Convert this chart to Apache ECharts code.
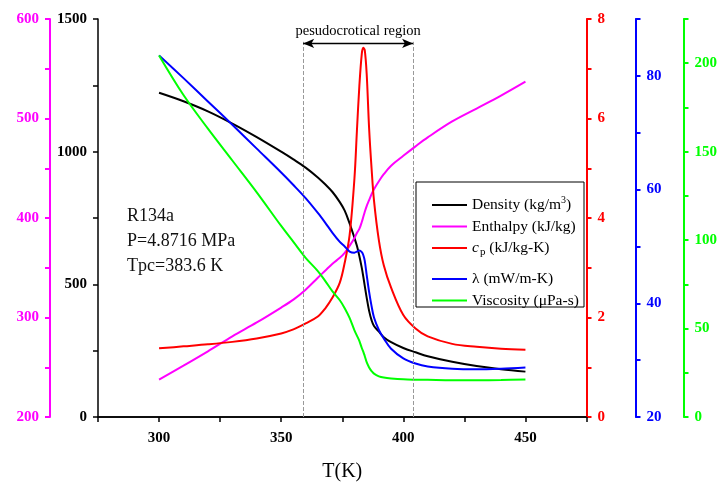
<!DOCTYPE html>
<html>
<head>
<meta charset="utf-8">
<script src="https://cdn.jsdelivr.net/npm/echarts@6/dist/echarts.min.js"></script>
<style>html,body{margin:0;padding:0;background:#fff;overflow:hidden}#c{width:720px;height:487px}</style>
</head>
<body>
<div id="c"></div>
<script>
var temperature = [300,310,320,330,340,350,355,360,365,368,371,374,376,378,380,381,382,383,383.6,384.2,385,386,387,388,390,392,395,400,405,410,420,430,440,450];
var density   = [1222,1190,1152,1106,1055,1000,971,940,903,877,848,810,778,730,675,645,607,562,530,495,450,400,365,343,322,301,282,260,244,229,208,192,180,171];
var enthalpy  = [237.6,251.6,266,281,295,310,318,328,340,347,354,360,365,372,380,385,389,396,401,406,412,418,424,429,437,444,452.5,462.5,472,481,497,510,523,537];
var cp        = [1.38,1.42,1.46,1.51,1.58,1.68,1.76,1.88,2.02,2.18,2.40,2.70,3.10,3.65,4.80,5.75,6.65,7.30,7.42,7.38,6.90,5.80,5.00,4.35,3.55,3.05,2.60,2.05,1.78,1.62,1.47,1.41,1.37,1.35];
var lambda    = [83.6,79.6,75.5,71.4,67.2,63,60.8,58.5,55.9,54.2,52.4,50.8,50.0,49.1,48.9,49.1,49.3,49.0,48.5,47.5,45,42,39.5,37.5,35.3,33.8,32,30.3,29.4,28.9,28.5,28.4,28.5,28.7];
var viscosity = [204.4,182,163,145,127,108,99,90,82.5,77,71,66,61.5,56,49,46,43,39,37,34.5,31,28,26,24.5,23,22.3,21.8,21.3,21.1,21,20.8,20.8,20.9,21.2];
var pseudoRegion = [359, 404];
var xTicks = {min:275, max:475, interval:25};

var FONT = "'Liberation Serif','Times New Roman',serif";
var chart = echarts.init(document.getElementById('c'));
function pairs(a){ return temperature.map(function(t,i){ return [t, a[i]]; }); }
var legendText = {
  'Density': 'Density (kg/m{sup|3})',
  'Enthalpy': 'Enthalpy (kJ/kg)',
  'cp': '{it|c}{sub|p} (kJ/kg-K)',
  'lambda': 'λ (mW/m-K)',
  'Viscosity': 'Viscosity (μPa-s)'
};
var legendTextStyle = {
  fontFamily: FONT, fontSize: 15.5, color: '#000', lineHeight: 20,
  rich: {
    sup: {fontFamily: FONT, fontSize: 10, verticalAlign: 'top', lineHeight: 12, color:'#000'},
    sub: {fontFamily: FONT, fontSize: 11, verticalAlign: 'bottom', lineHeight: 12, color:'#000', padding:[0,0,0,1]},
    it: {fontFamily: FONT, fontSize: 15.5, fontStyle: 'italic', color:'#000', lineHeight: 20}
  }
};
function yAx(o){
  var c = o.color;
  return {
    type: 'value', position: o.pos, offset: o.offset, min: o.min, max: o.max, interval: o.interval,
    axisLine: {show: true, lineStyle: {color: c, width: o.w || 2}},
    axisTick: {show: true, inside: false, length: 5, lineStyle: {color: c, width: o.w || 2}},
    splitLine: {show: false},
    axisLabel: {color: c, fontFamily: FONT, fontWeight: 'bold', fontSize: 15, margin: 11,
      formatter: function(v){ return o.show(v) ? String(v) : ''; }}
  };
}
var lineCommon = {type: 'line', showSymbol: false, smooth: 0.35, lineStyle: {width: 2}, z: 2};

chart.setOption({
  animation: false,
  grid: {left: 98, right: 133, top: 19, bottom: 64},
  xAxis: [{
    type: 'value', min: xTicks.min, max: xTicks.max, interval: xTicks.interval,
    name: 'T(K)', nameLocation: 'middle', nameGap: 45,
    nameTextStyle: {fontFamily: FONT, fontSize: 20, color: '#000'},
    axisLine: {lineStyle: {color: '#000', width: 1.5}},
    axisTick: {length: 5, lineStyle: {color: '#000', width: 1.5}},
    splitLine: {show: false},
    axisLabel: {color: '#000', fontFamily: FONT, fontWeight: 'bold', fontSize: 15, margin: 14,
      formatter: function(v){ return v % 50 === 0 ? String(v) : ''; }}
  }, {
    type: 'value', position: 'top', min: xTicks.min, max: xTicks.max, interval: xTicks.interval,
    axisLine: {show: true, lineStyle: {color: '#000', width: 1.5}},
    axisTick: {show: true, inside: true, length: 4, lineStyle: {color: '#000', width: 1.5}},
    axisLabel: {show: false}, splitLine: {show: false}
  }],
  yAxis: [
    yAx({pos:'left', offset:0, min:0, max:1500, interval:250, color:'#000', w:1.5, show:function(v){return v%500===0;}}),
    yAx({pos:'left', offset:48, min:200, max:600, interval:50, color:'#ff00ff', show:function(v){return v%100===0;}}),
    yAx({pos:'right', offset:0, min:0, max:8, interval:1, color:'#ff0000', show:function(v){return v%2===0;}}),
    yAx({pos:'right', offset:49, min:20, max:90, interval:10, color:'#0000ff', show:function(v){return (v-20)%20===0;}}),
    yAx({pos:'right', offset:97, min:0, max:225, interval:25, color:'#00ff00', show:function(v){return v%50===0;}})
  ],
  legend: [{
    data: ['Density','Enthalpy','cp'], orient: 'vertical', left: 427, top: 190, itemGap: 1.5,
    itemWidth: 35, itemHeight: 2, icon: 'rect', z: 10,
    formatter: function(n){ return legendText[n]; }, textStyle: legendTextStyle
  }, {
    data: ['lambda','Viscosity'], orient: 'vertical', left: 427, top: 264, itemGap: 1.5,
    itemWidth: 35, itemHeight: 2, icon: 'rect', z: 10,
    formatter: function(n){ return legendText[n]; }, textStyle: legendTextStyle
  }],
  graphic: [
    {type: 'rect', shape: {x: 416, y: 182, width: 168, height: 125}, style: {fill: '#fff', stroke: '#000', lineWidth: 1}, z: 3},
    {type: 'text', left: 127, top: 204, style: {text: 'R134a\nP=4.8716 MPa\nTpc=383.6 K', font: '18px ' + FONT, lineHeight: 25, fill: '#111'}, z: 5}
  ],
  series: [
    Object.assign({}, lineCommon, {name: 'Density', yAxisIndex: 0, color: '#000', data: pairs(density),
      markLine: {silent: true, symbol: ['none','none'], label: {show: false},
        lineStyle: {type: 'dashed', color: '#999', width: 1},
        data: [[{coord: [pseudoRegion[0], 0]}, {coord: [pseudoRegion[0], 1414]}],
               [{coord: [pseudoRegion[1], 0]}, {coord: [pseudoRegion[1], 1414]}]]}}),
    Object.assign({}, lineCommon, {name: 'Enthalpy', yAxisIndex: 1, color: '#ff00ff', data: pairs(enthalpy),
      markLine: {silent: true, symbol: ['arrow','arrow'], symbolSize: [7, 11],
        lineStyle: {type: 'solid', color: '#000', width: 1.3},
        label: {show: true, position: 'insideMiddleTop', distance: 5, formatter: 'pesudocrotical region',
          color: '#000', fontFamily: FONT, fontSize: 14.5},
        data: [[{coord: [pseudoRegion[0], 575.5]}, {coord: [pseudoRegion[1], 575.5]}]]}}),
    Object.assign({}, lineCommon, {name: 'cp', yAxisIndex: 2, color: '#ff0000', data: pairs(cp)}),
    Object.assign({}, lineCommon, {name: 'lambda', yAxisIndex: 3, color: '#0000ff', data: pairs(lambda)}),
    Object.assign({}, lineCommon, {name: 'Viscosity', yAxisIndex: 4, color: '#00ff00', data: pairs(viscosity)})
  ]
});
</script>
</body>
</html>
